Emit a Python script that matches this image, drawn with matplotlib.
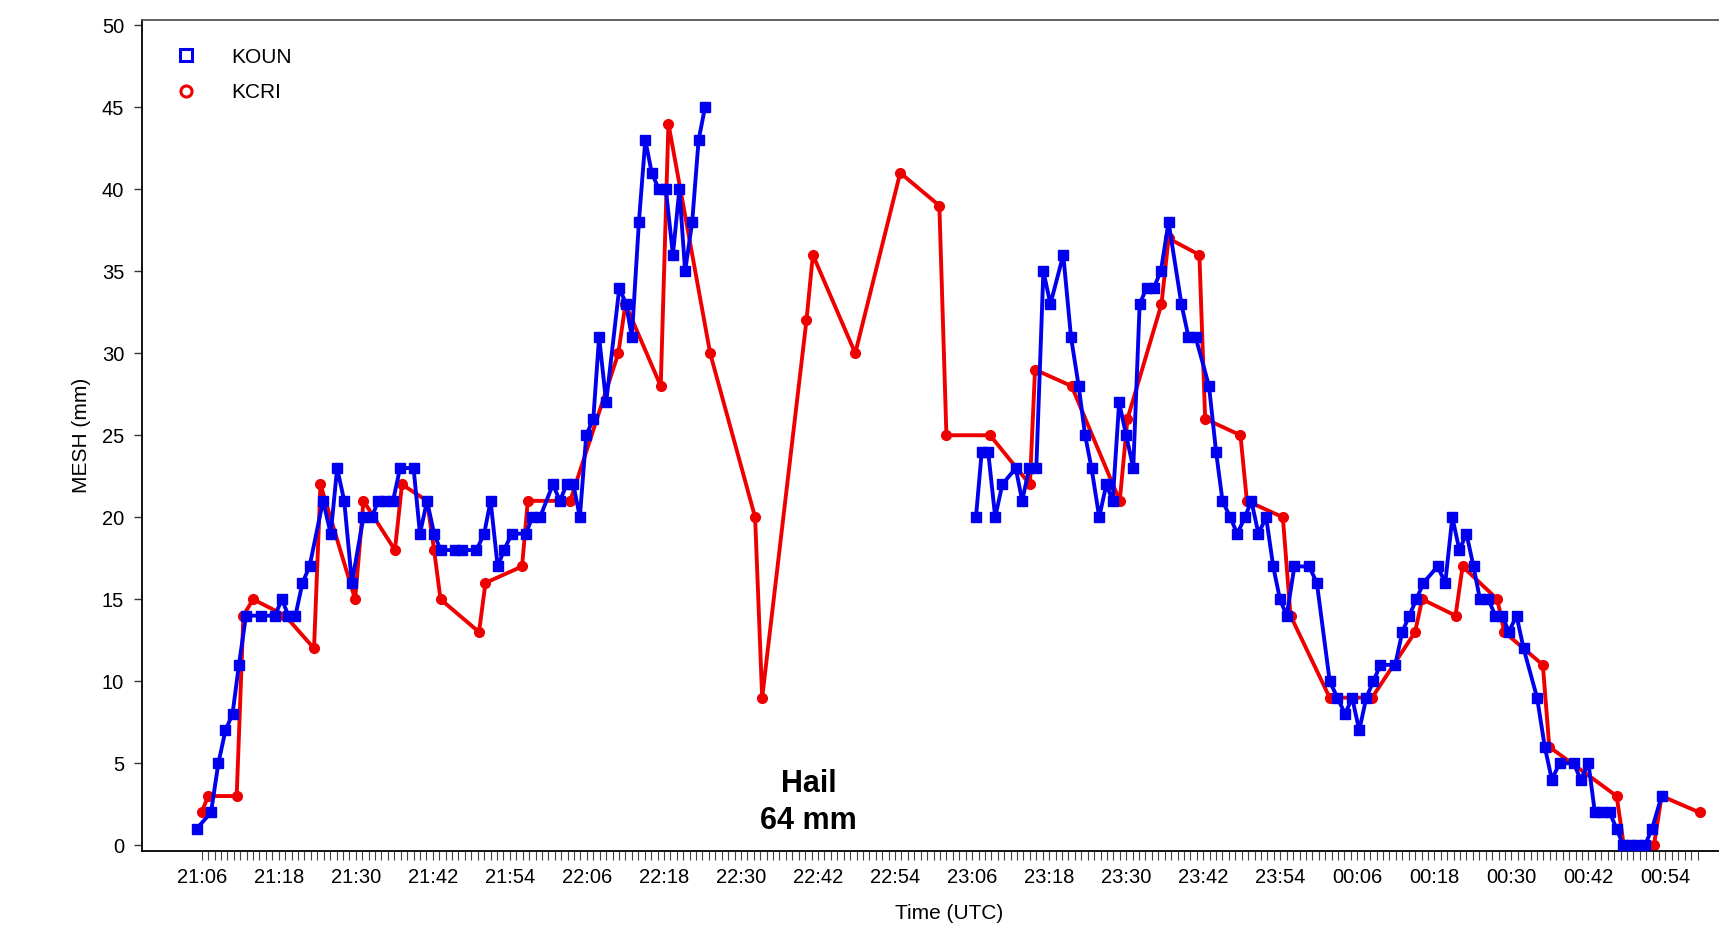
import matplotlib
matplotlib.use("Agg")
import matplotlib.pyplot as plt
import numpy as np
from matplotlib.lines import Line2D
from matplotlib.ticker import FixedLocator, FuncFormatter

plt.rcParams['font.family'] = ['Liberation Sans', 'DejaVu Sans']

# time origin of the axis labels (UTC, minutes after midnight)
T0 = 21 * 60 + 6

# KOUN MESH, minutes after 21:06 UTC and value (mm)
koun_min = [-0.8, 1.45, 2.6, 3.7, 4.8, 5.8, 6.9, 9.2, 11.4, 12.5, 13.5, 14.6,
            15.7, 16.8, 18.9, 20.1, 21.1, 22.2, 23.4, 25.2, 26.5, 27.5, 28.6,
            29.8, 30.9, 33.0, 34.0, 35.1, 36.2, 37.2, 39.5, 40.5, 42.8, 44.0,
            45.0, 46.1, 47.1, 48.3, 50.5, 51.5, 52.7, 54.7, 55.8, 56.85, 57.9,
            58.9, 59.9, 61.0, 61.9, 63.0, 65.05, 66.1, 67.0, 68.1, 69.1, 70.1,
            71.2, 72.3, 73.4, 74.4, 75.3, 76.4, 77.4, 78.4,
            120.6, 121.5, 122.5, 123.6, 124.7, 126.8, 127.8, 128.9, 130.0,
            131.1, 132.2, 134.2, 135.4, 136.6, 137.6, 138.6, 139.8, 140.9,
            141.9, 142.9, 144.0, 145.1, 146.1, 147.2, 148.3, 149.4, 150.6,
            152.6, 153.7, 154.8, 156.9, 158.0, 159.0, 160.2, 161.3, 162.5,
            163.5, 164.6, 165.8, 166.9, 167.95, 169.0, 170.2, 172.5, 173.7,
            175.7, 176.9, 178.1, 179.2, 180.3, 181.4, 182.5, 183.6, 185.9,
            187.0, 188.1, 189.2, 190.3, 192.5, 193.7, 194.8, 195.9, 197.0,
            198.1, 199.1, 200.4, 201.5, 202.6, 203.6, 204.8, 205.9, 208.0,
            209.2, 210.3, 211.5, 213.7, 214.8, 216.0, 217.0, 218.1, 219.3,
            220.4, 221.4, 222.5, 223.6, 224.8, 225.9, 227.4]
koun_mesh = [1, 2, 5, 7, 8, 11, 14, 14, 14, 15, 14, 14,
             16, 17, 21, 19, 23, 21, 16, 20, 20, 21, 21,
             21, 23, 23, 19, 21, 19, 18, 18, 18, 18, 19,
             21, 17, 18, 19, 19, 20, 20, 22, 21, 22, 22,
             20, 25, 26, 31, 27, 34, 33, 31, 38, 43, 41,
             40, 40, 36, 40, 35, 38, 43, 45,
             20, 24, 24, 20, 22, 23, 21, 23, 23,
             35, 33, 36, 31, 28, 25, 23, 20, 22,
             21, 27, 25, 23, 33, 34, 34, 35, 38,
             33, 31, 31, 28, 24, 21, 20, 19, 20,
             21, 19, 20, 17, 15, 14, 17, 17, 16,
             10, 9, 8, 9, 7, 9, 10, 11, 11,
             13, 14, 15, 16, 17, 16, 20, 18, 19,
             17, 15, 15, 14, 14, 13, 14, 12, 9,
             6, 4, 5, 5, 4, 5, 2, 2, 2,
             1, 0, 0, 0, 0, 1, 3]

# KCRI MESH
kcri_min = [0.0, 1.0, 5.45, 6.5, 8.0, 13.0, 17.5, 18.5, 23.9, 25.2, 30.1, 31.2,
            35.1, 36.2, 37.2, 43.2, 44.2, 49.9, 50.8, 57.4, 64.9, 66.0, 71.5,
            72.7, 79.2, 86.2, 87.3, 94.2, 95.2, 101.8, 108.8, 114.9, 116.0,
            122.8, 129.0, 129.8, 135.5, 143.0, 144.2, 149.5, 150.6, 155.4,
            156.3, 161.8, 162.8, 168.4, 169.6, 175.7, 182.3, 189.0, 190.1,
            195.3, 196.4, 201.8, 202.9, 208.9, 209.9, 220.4, 221.5, 226.2,
            227.4, 233.3]
kcri_mesh = [2, 3, 3, 14, 15, 14, 12, 22, 15, 21, 18, 22,
             21, 18, 15, 13, 16, 17, 21, 21, 30, 33, 28,
             44, 30, 20, 9, 32, 36, 30, 41, 39, 25,
             25, 22, 29, 28, 21, 26, 33, 37, 36,
             26, 25, 21, 20, 14, 9, 9, 13, 15,
             14, 17, 15, 13, 11, 6, 3, 0, 0,
             3, 2]

hail_time = 94.5
hail_text = "Hail\n64 mm"


def with_gaps(t, v, max_gap=10):
    # break the line where the radar has no data
    t = np.asarray(t, float)
    v = np.asarray(v, float)
    breaks = np.where(np.diff(t) > max_gap)[0] + 1
    t = np.insert(t, breaks, np.nan)
    v = np.insert(v, breaks, np.nan)
    return t, v


fig = plt.figure(figsize=(17.19, 9.39), dpi=100)
ax = fig.add_axes([142.3 / 1719, 1 - 851 / 939, 1613.7 / 1719, (851 - 19.5) / 939])

kt, kv = with_gaps(koun_min, koun_mesh)
ax.plot(kt, kv, color='#0000ee', lw=2.8, marker='s', ms=7, zorder=3)
ax.plot(kcri_min, kcri_mesh, color='#ee0000', lw=2.8, marker='o', ms=7, zorder=2)

ax.text(hail_time, 2.6, hail_text, ha='center', va='center', fontsize=22,
        fontweight='bold', linespacing=1.3)

ax.set_xlim(-9.25, 242.1)
ax.set_ylim(-0.35, 50.35)

ax.set_yticks(np.arange(0, 51, 5))
ax.xaxis.set_major_locator(FixedLocator(np.arange(0, 229, 12)))
ax.xaxis.set_minor_locator(FixedLocator(np.arange(0, 234, 1)))
ax.xaxis.set_major_formatter(FuncFormatter(
    lambda x, pos: "%02d:%02d" % (((T0 + int(x)) // 60) % 24, (T0 + int(x)) % 60)))

ax.tick_params(axis='y', labelsize=14.5, length=6, width=1, pad=7, color='#333333')
ax.tick_params(axis='x', which='both', labelsize=14.5, length=6.5, width=0.8,
               color='#444444', pad=6)

ax.spines['right'].set_visible(False)
ax.spines['top'].set_color('#555555')
for s in ['left', 'bottom', 'top']:
    ax.spines[s].set_linewidth(1.3)

ax.set_xlabel("Time (UTC)", fontsize=15, labelpad=12)
ax.set_ylabel("MESH (mm)", fontsize=15, labelpad=8)

handles = [Line2D([], [], color='#0000ee', marker='s', mfc='none', mew=2.2, ms=8, ls='none'),
           Line2D([], [], color='#ee0000', marker='o', mfc='none', mew=2.2, ms=8, ls='none')]
ax.legend(handles, ['KOUN', 'KCRI'], loc='upper left', bbox_to_anchor=(0.0209, 0.966),
          frameon=False, fontsize=15, handlelength=1.0, handletextpad=1.67,
          labelspacing=0.77, borderpad=0, borderaxespad=0)

fig.savefig("out.png", dpi=100)
